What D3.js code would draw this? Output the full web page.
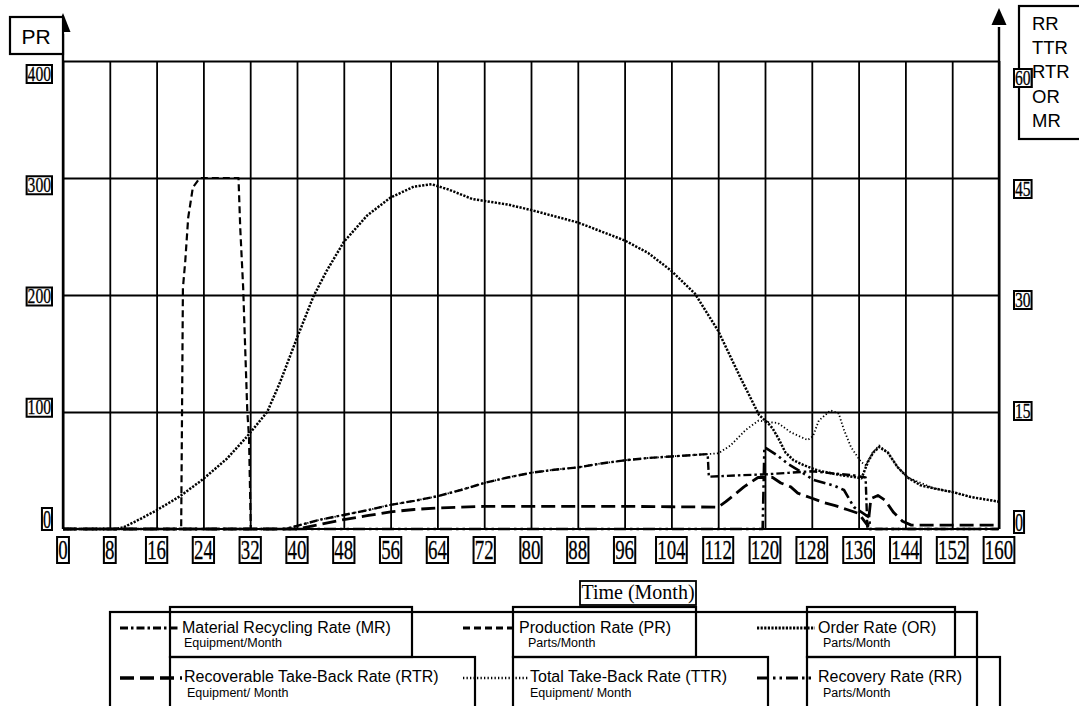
<!DOCTYPE html>
<html>
<head>
<meta charset="utf-8">
<script src="https://cdn.jsdelivr.net/npm/d3@7"></script>
<style>
  body { margin: 0; background: #fff; }
  svg { display: block; }
</style>
</head>
<body>
<svg id="chart" width="1079" height="706"></svg>
<script>
// ---------------- data ----------------
const monthTicks = [0, 8, 16, 24, 32, 40, 48, 56, 64, 72, 80, 88, 96, 104, 112, 120, 128, 136, 144, 152, 160];
const prTicks = [0, 100, 200, 300, 400];
const rightTicks = [0, 15, 30, 45, 60];
const rightAxisNames = ["RR", "TTR", "RTR", "OR", "MR"];

// Production Rate (PR), Parts/Month, left axis
const prMonths = [0, 20.2, 20.3, 20.5, 20.9, 21.4, 22.2, 23.4, 30, 30.3, 30.8, 31.5, 31.8, 32.1, 160];
const prValues = [0, 0, 67, 206, 229, 266, 292, 300, 300, 257, 206, 101, 78, 0, 0];

// Order Rate (OR), Parts/Month, right axis
const orMonths = [0, 9, 10.3, 13, 16, 20, 23.8, 28, 31.4, 34.9, 37.1, 40, 42.8, 45, 48, 52, 56, 60, 63, 66, 70, 76, 80, 88, 96, 100, 104, 108, 112, 116, 119, 120.5, 121.3, 122.3, 123.5, 124.9, 126.6, 129, 131, 133, 135, 136.5, 137.6, 138.5, 139.5, 141, 142.7, 144.4, 146.6, 148.9, 152.3, 155.2, 160];
const orValues = [0, 0, 0.2, 1.2, 2.4, 4.2, 6.3, 9.0, 11.8, 15.0, 18.8, 24.5, 29.8, 33.0, 36.8, 40.2, 42.5, 43.9, 44.2, 43.5, 42.3, 41.6, 40.9, 39.3, 37.0, 35.4, 33.1, 30.2, 25.4, 19.1, 14.6, 13.6, 12.9, 11.6, 9.8, 8.8, 8.2, 7.5, 7.2, 6.9, 6.7, 6.5, 8.6, 9.8, 10.5, 9.8, 7.9, 6.6, 5.6, 5.2, 4.7, 4.1, 3.5];

// Recoverable Take-Back Rate (RTR), Equipment/Month, right axis
const rtrMonths = [0, 40, 44, 48, 52, 56, 60, 64, 72, 80, 88, 96, 104, 112, 113.3, 116.4, 118.8, 121.3, 122.7, 124.4, 125.6, 127.8, 130, 132, 134, 136, 137.6, 138.1, 139.3, 140.5, 142, 143.5, 145, 160];
const rtrValues = [0, 0, 0.6, 1.2, 1.7, 2.2, 2.5, 2.7, 2.9, 2.9, 2.9, 2.9, 2.85, 2.8, 3.5, 5.4, 6.6, 6.6, 5.9, 5.4, 4.6, 4.0, 3.4, 3.0, 2.5, 2.0, 0.4, 3.9, 4.3, 3.7, 2.1, 1.0, 0.5, 0.5];

// Total Take-Back Rate (TTR), Equipment/Month, right axis
const ttrMonths = [0, 38, 40, 44, 48, 52, 56, 60, 64, 68, 72, 76, 80, 84, 88, 92, 96, 100, 104, 108, 110, 112, 114.1, 116.7, 118.9, 120.5, 122.2, 124.4, 127.3, 128.2, 129.2, 131.2, 132.6, 133.5, 134.7, 136.4, 137.2, 138.4, 139.5, 141, 142.7, 144.4, 148.9, 152.3, 155.2, 160];
const ttrValues = [0, 0, 0.4, 1.2, 1.8, 2.4, 3.1, 3.6, 4.2, 5.0, 5.9, 6.6, 7.2, 7.6, 7.9, 8.4, 8.8, 9.1, 9.3, 9.5, 9.6, 9.7, 10.7, 12.7, 13.9, 13.7, 13.6, 12.4, 11.4, 11.9, 13.9, 15.2, 14.8, 12.7, 10.5, 8.6, 8.2, 9.8, 10.7, 9.8, 7.9, 6.6, 5.2, 4.7, 4.1, 3.5];

// Material Recycling Rate (MR), Equipment/Month, right axis
const mrMonths = [0, 38, 40, 44, 48, 52, 56, 60, 64, 68, 72, 76, 80, 84, 88, 92, 96, 100, 104, 108, 110.2, 110.4, 116, 120, 124, 128, 132, 135, 137.2, 137.5, 160];
const mrValues = [0, 0, 0.4, 1.2, 1.8, 2.4, 3.1, 3.6, 4.2, 5.0, 5.9, 6.6, 7.2, 7.6, 7.9, 8.4, 8.8, 9.1, 9.3, 9.5, 9.6, 6.7, 6.9, 7.0, 7.2, 7.4, 7.1, 6.9, 6.6, 0, 0];

// Recovery Rate (RR), Parts/Month, right axis
const rrMonths = [0, 119.6, 119.9, 122, 124, 126, 128.3, 130.7, 132, 133.5, 135.2, 136, 137.8, 138, 160];
const rrValues = [0, 0, 10.5, 9.5, 8.3, 7.4, 6.3, 5.8, 5.5, 5.0, 2.8, 2.4, 1.5, 0, 0];

// legend entries: [label, unit]
const legendLabels = [
  ["Material Recycling Rate (MR)", "Equipment/Month"],
  ["Production Rate (PR)", "Parts/Month"],
  ["Order Rate (OR)", "Parts/Month"],
  ["Recoverable Take-Back Rate (RTR)", "Equipment/ Month"],
  ["Total Take-Back Rate (TTR)", "Equipment/ Month"],
  ["Recovery Rate (RR)", "Parts/Month"]
];

// ---------------- layout & scales ----------------
const svg = d3.select("#chart");
const plot = { left: 63, right: 999, top: 61, bottom: 529 };

const x = d3.scaleLinear().domain([0, 160]).range([plot.left, plot.right]);
const yPR = d3.scaleLinear().domain([0, 400]).range([plot.bottom, plot.top]);
const yRight = d3.scaleLinear().domain([0, 60]).range([plot.bottom, plot.top]);
// tick labels are spread over a slightly inset band
const labelPR = d3.scaleLinear().domain([0, 400]).range([519, 74]);
const labelRight = d3.scaleLinear().domain([0, 60]).range([522, 78]);

const serif = "'Liberation Serif', 'Times New Roman', serif";
const sans = "'Liberation Sans', Arial, sans-serif";

// ---------------- grid ----------------
const gridX = svg.append("g")
  .attr("transform", `translate(0,${plot.bottom})`)
  .call(d3.axisBottom(x).tickValues(monthTicks).tickSize(-(plot.bottom - plot.top)).tickFormat(""));
gridX.select(".domain").remove();
gridX.selectAll("line").attr("stroke", "#000").attr("stroke-width", 1.8);

const gridY = svg.append("g")
  .attr("transform", `translate(${plot.left},0)`)
  .call(d3.axisLeft(yPR).tickValues(prTicks.filter(d => d > 0)).tickSize(-(plot.right - plot.left)).tickFormat(""));
gridY.select(".domain").remove();
gridY.selectAll("line").attr("stroke", "#000").attr("stroke-width", 1.8);

// baseline
svg.append("line").attr("x1", plot.left).attr("x2", plot.right)
  .attr("y1", plot.bottom).attr("y2", plot.bottom)
  .attr("stroke", "#000").attr("stroke-width", 2.2);

// vertical axes with arrow heads
function arrowAxis(ax, tipY, baseY) {
  svg.append("line").attr("x1", ax).attr("x2", ax)
    .attr("y1", plot.bottom).attr("y2", baseY + 2)
    .attr("stroke", "#000").attr("stroke-width", 2.4);
  svg.append("path")
    .attr("d", `M${ax - 7.5},${baseY} L${ax},${tipY} L${ax + 7.5},${baseY} Z`)
    .attr("fill", "#000");
}
arrowAxis(x(0), 13, 32);
arrowAxis(x(160), 8, 25);

// ---------------- boxed labels ----------------
function boxedLabel(cx, cy, str, o) {
  const g = svg.append("g");
  const t = g.append("text").text(str)
    .attr("font-family", o.font).attr("font-size", o.size)
    .attr("text-anchor", "start")
    .attr("stroke", "#000").attr("stroke-width", o.tw || 0.3)
    .attr("transform", `translate(0,${cy + o.size * 0.33}) scale(${o.sx},1)`);
  const w = t.node().getComputedTextLength() * o.sx;
  let left;
  if (o.anchor === "middle") left = cx - w / 2;
  else if (o.anchor === "end") left = cx - w;
  else left = cx;
  t.attr("transform", `translate(${left},${cy + o.size * 0.33}) scale(${o.sx},1)`);
  g.insert("rect", "text")
    .attr("x", left - o.padX).attr("y", cy - o.h / 2)
    .attr("width", w + 2 * o.padX).attr("height", o.h)
    .attr("fill", "#fff").attr("stroke", "#000").attr("stroke-width", o.sw || 2);
  return g;
}

// month labels
monthTicks.forEach(m => {
  boxedLabel(x(m), 550, String(m), { font: serif, size: 27, sx: 0.7, anchor: "middle", padX: 1.2, h: 26 });
});
// left PR labels
prTicks.forEach(v => {
  const big = v === 0;
  boxedLabel(51, labelPR(v), String(v), { font: serif, size: big ? 26 : 20, sx: big ? 0.62 : 0.78, anchor: "end", padX: 1, h: big ? 22 : 18 });
});
// right axis labels
rightTicks.forEach(v => {
  const big = v === 0;
  boxedLabel(1015, labelRight(v), String(v), { font: serif, size: big ? 26 : 20, sx: big ? 0.62 : 0.78, anchor: "start", padX: 1, h: big ? 22 : 18 });
});

// axis titles
svg.append("rect").attr("x", 10).attr("y", 17).attr("width", 53).attr("height", 37)
  .attr("fill", "#fff").attr("stroke", "#000").attr("stroke-width", 2.2);
svg.append("text").attr("x", 36).attr("y", 44).attr("text-anchor", "middle")
  .attr("font-family", sans).attr("font-size", 21).text("PR");

svg.append("rect").attr("x", 1019).attr("y", 6).attr("width", 80).attr("height", 133)
  .attr("fill", "none").attr("stroke", "#000").attr("stroke-width", 2.2);
rightAxisNames.forEach((n, i) => {
  svg.append("text").attr("x", 1032).attr("y", 30 + i * 24.2)
    .attr("font-family", sans).attr("font-size", 18.5).text(n);
});
// redraw the "60" label on top of the name box border
boxedLabel(1015, labelRight(60), "60", { font: serif, size: 20, sx: 0.78, anchor: "start", padX: 1, h: 18 });

// ---------------- series ----------------
const styles = {
  RTR: { dash: "14,6", w: 2.8 },
  MR:  { dash: "8,3,2.5,3", w: 2.4 },
  RR:  { dash: "12,4,2.5,4,2.5,4", w: 2.6 },
  TTR: { dash: "1.3,2.2", w: 1.8 },
  OR:  { dash: "2.2,1.4", w: 2.5 },
  PR:  { dash: "7,4", w: 2.2 }
};

const series = [
  { key: "RTR", t: rtrMonths, v: rtrValues, y: yRight },
  { key: "MR",  t: mrMonths,  v: mrValues,  y: yRight },
  { key: "RR",  t: rrMonths,  v: rrValues,  y: yRight },
  { key: "TTR", t: ttrMonths, v: ttrValues, y: yRight },
  { key: "OR",  t: orMonths,  v: orValues,  y: yRight },
  { key: "PR",  t: prMonths,  v: prValues,  y: yPR }
];

const linesG = svg.append("g");
series.forEach(s => {
  const pts = d3.zip(s.t, s.v);
  const line = d3.line().x(d => x(d[0])).y(d => s.y(d[1]));
  linesG.append("path").datum(pts)
    .attr("d", line)
    .attr("fill", "none")
    .attr("stroke", "#000")
    .attr("stroke-width", styles[s.key].w)
    .attr("stroke-dasharray", styles[s.key].dash)
    .attr("stroke-linejoin", "round");
});

// ---------------- x title ----------------
svg.append("rect").attr("x", 580).attr("y", 581).attr("width", 116).attr("height", 24)
  .attr("fill", "#fff").attr("stroke", "#000").attr("stroke-width", 1.8);
svg.append("text").attr("x", 638).attr("y", 599).attr("text-anchor", "middle")
  .attr("font-family", serif).attr("font-size", 20).text("Time (Month)");

// ---------------- legend ----------------
const lg = svg.append("g");
lg.append("rect").attr("x", 110).attr("y", 612).attr("width", 867).attr("height", 120)
  .attr("fill", "none").attr("stroke", "#000").attr("stroke-width", 2.2);

const itemBoxes = [
  [170, 607, 242, 50], [513, 607, 183, 50], [807, 607, 148, 50],
  [170, 657, 305, 80], [513, 657, 255, 80], [807, 657, 193, 80]
];
const sampleSpans = [[120, 180], [463, 517], [757, 815], [120, 182], [463, 528], [757, 815]];
const textX = [182, 519, 818, 184, 530, 818];
const subX = [184, 528, 823, 187, 530, 823];
const legendKeys = ["MR", "PR", "OR", "RTR", "TTR", "RR"];

legendLabels.forEach((lab, i) => {
  const row = i < 3 ? 0 : 1;
  const b = itemBoxes[i];
  lg.append("rect").attr("x", b[0]).attr("y", b[1]).attr("width", b[2]).attr("height", b[3])
    .attr("fill", "none").attr("stroke", "#000").attr("stroke-width", 2.2);
  const ly = row === 0 ? 628 : 678;
  const st = styles[legendKeys[i]];
  lg.append("line").attr("x1", sampleSpans[i][0]).attr("x2", sampleSpans[i][1])
    .attr("y1", ly).attr("y2", ly)
    .attr("stroke", "#000").attr("stroke-width", st.w + 0.6)
    .attr("stroke-dasharray", st.dash);
  lg.append("text").attr("x", textX[i]).attr("y", row === 0 ? 633 : 682)
    .attr("font-family", sans).attr("font-size", 16).text(lab[0]);
  lg.append("text").attr("x", subX[i]).attr("y", row === 0 ? 647 : 697)
    .attr("font-family", sans).attr("font-size", 12.5).text(lab[1]);
});
</script>
</body>
</html>
